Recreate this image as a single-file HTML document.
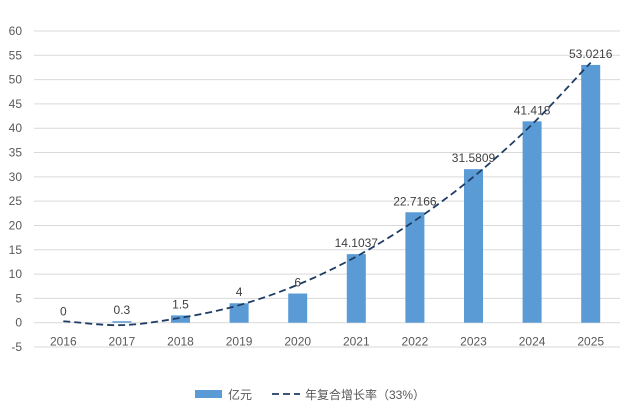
<!DOCTYPE html>
<html><head><meta charset="utf-8"><style>
body{margin:0;background:#fff;}
svg{display:block;font-family:"Liberation Sans","Noto Sans CJK SC",sans-serif;}
</style></head><body>
<svg id="chart" width="624" height="414" viewBox="0 0 624 414"></svg>
<script>
const categories=["2016","2017","2018","2019","2020","2021","2022","2023","2024","2025"];
const values=[0,0.3,1.5,4,6,14.1037,22.7166,31.5809,41.418,53.0216];
const labels=["0","0.3","1.5","4","6","14.1037","22.7166","31.5809","41.418","53.0216"];
const trend=[0.3,-0.5,1.0,3.6,7.8,13.6,21.0,30.0,40.8,53.5];
const yTicks=[-5,0,5,10,15,20,25,30,35,40,45,50,55,60];
const NS="http://www.w3.org/2000/svg";
const svg=document.getElementById('chart');
const x0=34,x1=620,yTop=31,yBot=347,vMin=-5,vMax=60;
const band=(x1-x0)/categories.length;
const xc=i=>x0+band*(i+0.5);
const y=v=>yBot-(v-vMin)/(vMax-vMin)*(yBot-yTop);
function mk(t,a){const e=document.createElementNS(NS,t);for(const k in a)e.setAttribute(k,a[k]);svg.appendChild(e);return e;}
yTicks.forEach(v=>{
 const g=mk('line',{x1:x0,x2:x1,y1:y(v),y2:y(v),stroke:'#d9d9d9','stroke-width':1});
 
 
 const t=mk('text',{x:22,y:y(v)+4,'text-anchor':'end','font-size':12,fill:'#595959'});
 t.textContent=v;
 
 
});
categories.forEach((c,i)=>{
 const bw=19;
 const b=mk('rect',{x:xc(i)-bw/2,y:y(Math.max(values[i],0)),width:bw,height:Math.abs(y(values[i])-y(0)),fill:'#5b9bd5'});
 
 
 const t=mk('text',{x:xc(i),y:y(0)+23,'text-anchor':'middle','font-size':12,fill:'#595959'});
 t.textContent=c;
 
 
 const l=mk('text',{x:xc(i),y:y(values[i])-7,'text-anchor':'middle','font-size':12,fill:'#404040'});
 l.textContent=labels[i];
 
 
});
let d='';
for(let i=0;i<trend.length;i++){
 const px=xc(i),py=y(trend[i]);
 if(i===0)d='M'+px+','+py;
 else{const pxp=xc(i-1),pyp=y(trend[i-1]);
  const sl0=i>1?(trend[i]-trend[i-2])/2:(trend[i]-trend[i-1]);
  const sl1=i<trend.length-1?(trend[i+1]-trend[i-1])/2:(trend[i]-trend[i-1]);
  d+=' C'+(pxp+band/3)+','+y(trend[i-1]+sl0/3)+' '+(px-band/3)+','+y(trend[i]-sl1/3)+' '+px+','+py;}
}
const tl=mk('path',{d:d,fill:'none',stroke:'#1f3d64','stroke-width':1.8,'stroke-dasharray':'7,4'});


</script>
<svg style="position:absolute;left:0;top:0" width="624" height="414">
<rect x="195" y="390" width="27" height="8" fill="#5b9bd5"/>
<text x="228" y="399" font-size="12" fill="#595959" font-family="Liberation Sans,Noto Sans CJK SC,sans-serif">亿元</text>
<line x1="272" x2="300" y1="394" y2="394" stroke="#1f3d64" stroke-width="1.8" stroke-dasharray="7,4"/>
<text x="305" y="399" font-size="12" fill="#595959" font-family="Liberation Sans,Noto Sans CJK SC,sans-serif">年复合增长率（33%）</text>
</svg>
</body></html>
